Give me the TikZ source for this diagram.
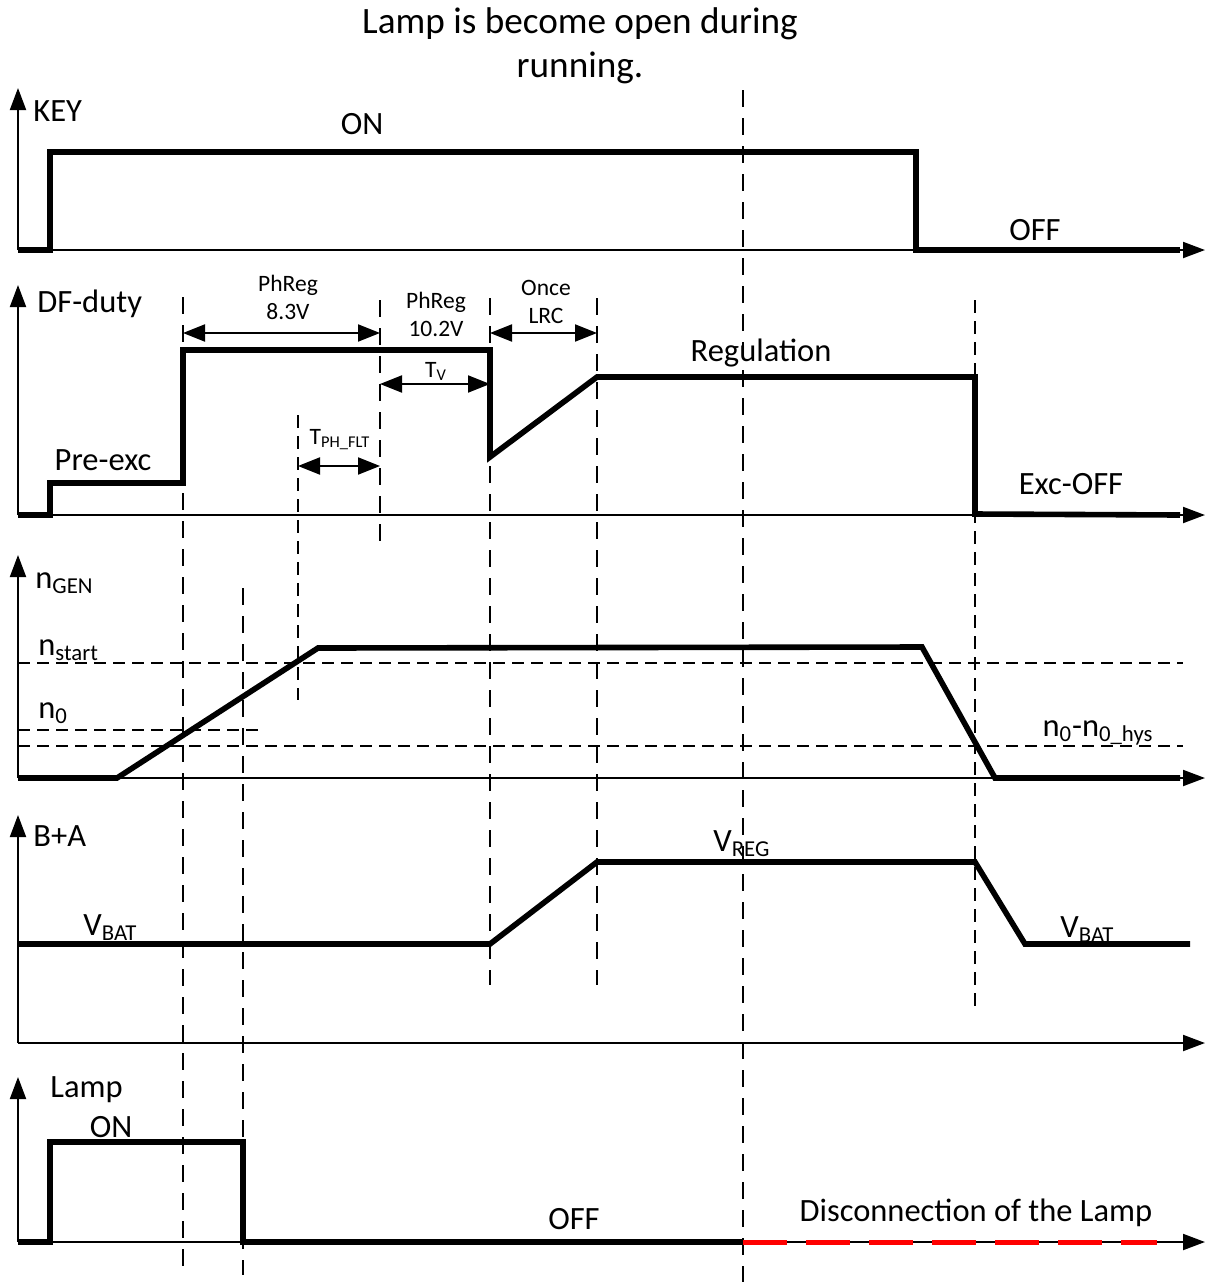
\documentclass[tikz,border=0pt]{standalone}
\usepackage{fontspec}
\setmainfont{Carlito}
\usetikzlibrary{arrows.meta}

\tikzset{
  sig/.style={line width=2.8pt,line join=miter},
  axis/.style={line width=1pt,-{Triangle[length=11pt,width=8pt]}},
  vmark/.style={line width=1pt,dash pattern=on 8.5pt off 5.5pt},
  thinmark/.style={line width=.8pt,dash pattern=on 6.5pt off 4pt},
  level/.style={line width=.8pt,dash pattern=on 6pt off 3.5pt},
  dim/.style={line width=1pt,{Triangle[length=11pt,width=8.5pt]}-{Triangle[length=11pt,width=8.5pt]}},
  lbl/.style={font=\fontsize{16.25}{19}\selectfont,inner sep=0pt},
  slbl/.style={font=\fontsize{11.75}{14}\selectfont,inner sep=0pt},
}

\begin{document}
\begin{tikzpicture}[x=.5pt,y=-.5pt]
  \useasboundingbox (0,0) rectangle (1205,1282);

  \node[font=\fontsize{18.6}{22}\selectfont,inner sep=0pt,anchor=base]
    (title1) at (580,33) {Lamp is become open during};
  \node[font=\fontsize{18.6}{22}\selectfont,inner sep=0pt,anchor=base]
    (title2) at (580,77) {running.};

  % axes
  \foreach \y/\top in {250/88,515/285,778/555,1043/815,1242/1077}{
    \draw[axis] (18,\y)--(18,\top);
    \draw[axis] (18,\y)--(1205,\y);
  }

  % marker lines
  \draw[vmark] (183,297)--(183,1270);
  \draw[vmark] (243,588)--(243,1275);
  \draw[thinmark] (298,415)--(298,700);
  \draw[vmark] (380,300)--(380,545);
  \draw[vmark] (490,298)--(490,985);
  \draw[vmark] (597,298)--(597,985);
  \draw[vmark] (743,90)--(743,1282);
  \draw[thinmark] (975,300)--(975,1010);

  % KEY
  \draw[sig] (18,250)--(50,250)--(50,152)--(916,152)--(916,250)--(1180,250);
  \node[lbl,anchor=base west] (key) at (33,121) {KEY};
  \node[lbl,anchor=base] (keyon) at (362,134) {ON};
  \node[lbl,anchor=base] (keyoff) at (1035,240) {OFF};

  % DF-duty
  \draw[sig] (18,515)--(50,515)--(50,483)--(183,483)--(183,350)--(490,350)
    --(490,457)--(597,377)--(975,377)--(975,514)--(1180,515);
  \node[lbl,anchor=base west] (df) at (37,312) {DF-duty};
  \node[lbl,anchor=base] (preexc) at (103,470) {Pre-exc};
  \node[lbl,anchor=base] (regul) at (761,361) {Regulation};
  \node[lbl,anchor=base] (excoff) at (1071,494) {Exc-OFF};

  \draw[dim] (183,333)--(380,333);
  \node[slbl,anchor=base] (ph1a) at (288,291) {PhReg};
  \node[slbl,anchor=base] (ph1b) at (288,319) {8.3V};
  \node[slbl,anchor=base] (ph2a) at (436,308) {PhReg};
  \node[slbl,anchor=base] (ph2b) at (436,336) {10.2V};
  \draw[dim] (490,333)--(597,333);
  \node[slbl,anchor=base] (lrca) at (546,295) {Once};
  \node[slbl,anchor=base] (lrcb) at (546,323) {LRC};
  \draw[dim] (380,384)--(490,384);
  \node[slbl,anchor=base] (tv) at (436,377) {T\textsubscript{V}};
  \draw[dim] (298,466)--(380,466);
  \node[slbl,anchor=base] (tph) at (340,444) {T\textsubscript{PH\_FLT}};

  % n_GEN
  \draw[level] (18,663)--(1183,663);
  \draw[level] (18,730)--(263,730);
  \draw[level] (18,746)--(1183,746);
  \draw[sig] (18,778)--(117,778)--(318,648)--(922,647)--(995,778)--(1180,778);
  \node[lbl,anchor=base west] (ngen) at (35,588) {n\textsubscript{GEN}};
  \node[lbl,anchor=base west] (nstart) at (38,655) {n\textsubscript{start}};
  \node[lbl,anchor=base west] (nzero) at (38,718) {n\textsubscript{0}};
  \node[lbl,anchor=base] (nhys) at (1098,736) {n\textsubscript{0}-n\textsubscript{0\_hys}};

  % B+A
  \draw[sig] (18,944)--(490,944)--(597,862)--(975,862)--(1025,944)--(1190,944);
  \node[lbl,anchor=base west] (bpa) at (33,846) {B+A};
  \node[lbl,anchor=base west] (vbat1) at (83,935) {V\textsubscript{BAT}};
  \node[lbl,anchor=base west] (vreg) at (713,851) {V\textsubscript{REG}};
  \node[lbl,anchor=base west] (vbat2) at (1060,937) {V\textsubscript{BAT}};

  % Lamp
  \draw[sig] (18,1242)--(50,1242)--(50,1142)--(243,1142)--(243,1242)--(743,1242);
  \draw[red,line width=2.5pt,dash pattern=on 22pt off 9.5pt] (743,1242)--(1157,1242);
  \node[lbl,anchor=base west] (lamp) at (50,1097) {Lamp};
  \node[lbl,anchor=base] (lampon) at (111,1137) {ON};
  \node[lbl,anchor=base] (lampoff) at (574,1229) {OFF};
  \node[lbl,anchor=base] (disc) at (976,1221) {Disconnection of the Lamp};
\end{tikzpicture}
\end{document}
